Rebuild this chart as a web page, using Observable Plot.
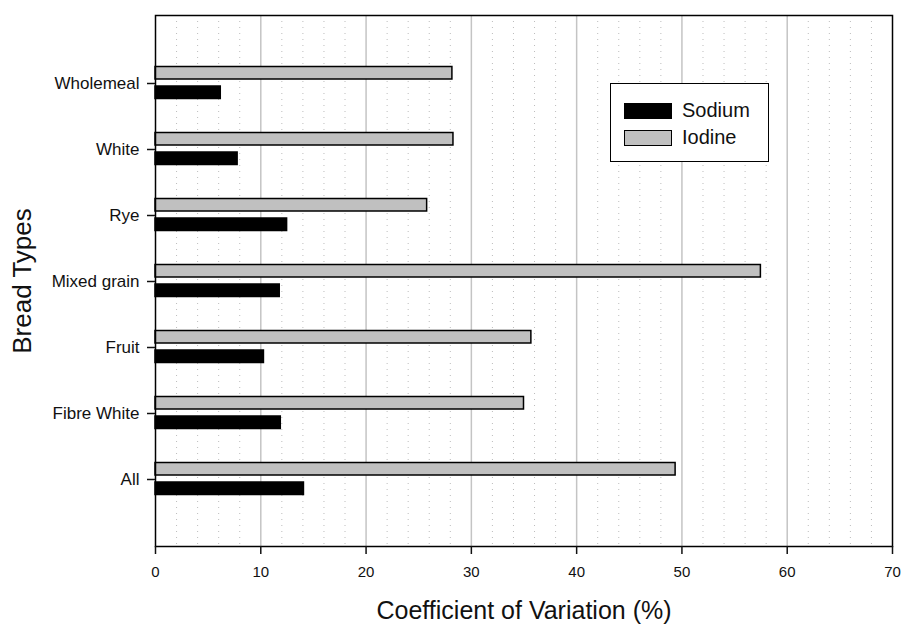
<!DOCTYPE html>
<html>
<head>
<meta charset="utf-8">
<script src="https://cdn.jsdelivr.net/npm/d3@7"></script>
<script src="https://cdn.jsdelivr.net/npm/@observablehq/plot@0.6"></script>
<style>
  body { margin: 0; background: #fff; font-family: "Liberation Sans", Arial, sans-serif; }
  #wrap { position: relative; width: 902px; height: 626px; }
  #legend {
    position: absolute; left: 610px; top: 83px; width: 157px; height: 77px;
    border: 1.5px solid #000; background: #fff; box-sizing: content-box;
  }
  .item { position: absolute; left: 13px; display: flex; align-items: center; font-size: 20px; color: #111; }
  .sw { width: 46px; height: 14px; border: 1.5px solid #000; margin-right: 10px; }
</style>
</head>
<body>
<div id="wrap"></div>
<script>
const categories = ["Wholemeal", "White", "Rye", "Mixed grain", "Fruit", "Fibre White", "All"];
const sodium = [6.2, 7.8, 12.5, 11.8, 10.3, 11.9, 14.1];
const iodine = [28.2, 28.3, 25.8, 57.5, 35.7, 35.0, 49.4];
const xTicks = [0, 10, 20, 30, 40, 50, 60, 70];
const majorGrid = [10, 20, 30, 40, 50, 60];
const minorGrid = [2, 4, 6, 8, 12, 14, 16, 18, 22, 24, 26, 28, 32, 34, 36, 38, 42, 44, 46, 48, 52, 54, 56, 58, 62, 64, 66, 68];

const rows = categories.map((c, i) => ({ category: c, sodium: sodium[i], iodine: iodine[i] }));

const chart = Plot.plot({
  width: 902,
  height: 626,
  marginLeft: 155,
  marginRight: 10,
  marginTop: 15,
  marginBottom: 80,
  style: { fontFamily: "'Liberation Sans', Arial, sans-serif", color: "#111", background: "#fff" },
  x: { domain: [0, 70] },
  y: { domain: categories, paddingInner: 0, paddingOuter: 0.52 },
  marks: [
    Plot.ruleX(minorGrid, { stroke: "#bcbcbc", strokeWidth: 1, strokeDasharray: "1,5" }),
    Plot.ruleX(majorGrid, { stroke: "#c4c4c4", strokeWidth: 1.5 }),
    Plot.barX(rows, { y: "category", x1: 0, x2: "iodine", fill: "#c0c0c0", stroke: "#000", strokeWidth: 1.5, insetTop: 16.5, insetBottom: 37 }),
    Plot.barX(rows, { y: "category", x1: 0, x2: "sodium", fill: "#000", stroke: "#000", strokeWidth: 1.5, insetTop: 36, insetBottom: 17.5 }),
    Plot.frame({ stroke: "#000", strokeWidth: 1.5 }),
    Plot.axisX({ ticks: xTicks, tickSize: 8, tickPadding: 12, label: null, strokeWidth: 1.5, fontSize: 15 }),
    Plot.axisY({ tickSize: 8, tickPadding: 8, label: null, strokeWidth: 1.5, fontSize: 17 }),
    Plot.text(["Bread Types"], { frameAnchor: "left", dx: -133, rotate: -90, fontSize: 26, fill: "#111", textAnchor: "middle" }),
    Plot.text(["Coefficient of Variation (%)"], { frameAnchor: "bottom", dy: 72, fontSize: 25, fill: "#111", textAnchor: "middle" })
  ]
});

const wrap = document.getElementById("wrap");
wrap.appendChild(chart);

const legend = document.createElement("div");
legend.id = "legend";
legend.innerHTML = `
  <div class="item" style="top:15px"><div class="sw" style="background:#000"></div>Sodium</div>
  <div class="item" style="top:42px"><div class="sw" style="background:#c0c0c0"></div>Iodine</div>`;
wrap.appendChild(legend);
</script>
</body>
</html>
